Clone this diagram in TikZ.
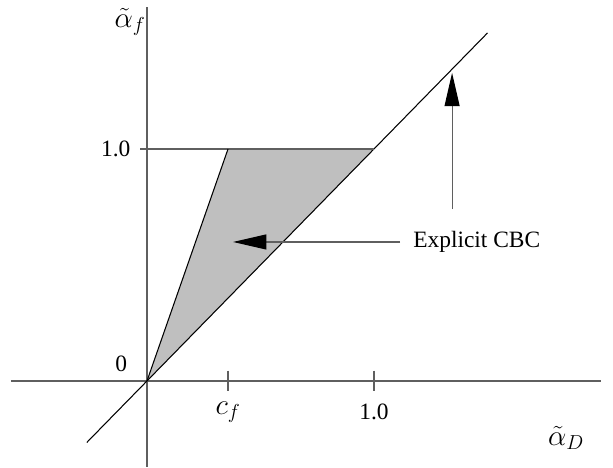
\documentclass[tikz,border=0pt]{standalone}
\usepackage{fontspec}
\setmainfont{Liberation Serif}
\usetikzlibrary{arrows.meta, math}
\definecolor{regiongray}{RGB}{191,191,191}
\definecolor{axisgray}{RGB}{95,95,95}

\begin{document}
\begin{tikzpicture}[x=6.81cm,y=6.96cm,font=\fontsize{20}{24}\selectfont]
\tikzmath{
\cf=0.357;
\tick=0.045;
}
\useasboundingbox (-0.6476,-0.375) rectangle (2.0529,1.642);

\coordinate (O) at (0,0);
\coordinate (C) at (\cf,1);
\coordinate (P) at (1,1);

\fill[color=regiongray] (O) -- (C) -- (P) -- cycle;

% axes
\draw[axisgray,line width=1pt] (-0.6,0) -- (2.0,0);
\draw[axisgray,line width=1pt] (0,-0.37) -- (0,1.61);
\draw[line width=0.9pt] (-0.265,-0.265) -- (1.5,1.5);

\draw[axisgray,line width=1pt] (-0.03,1) -- (P);
\draw[line width=0.9pt] (O) -- (C);
\draw[axisgray,line width=1pt] (\cf,\tick) -- (\cf,-\tick);
\draw[axisgray,line width=1pt] (1,\tick) -- (1,-\tick);

\node[anchor=east] (zero) at (-0.07,0.073) {0};
\node[anchor=east] (yone) at (-0.055,1) {1.0};
\node[font=\fontsize{25}{28}\selectfont] (cflab) at (\cf,-0.134) {$c_f$};
\node (xone) at (1,-0.134) {1.0};
\node[font=\fontsize{25}{28}\selectfont] (yname) at (-0.075,1.547) {$\tilde{\alpha}_f$};
\node[font=\fontsize{25}{28}\selectfont] (xname) at (1.846,-0.246) {$\tilde{\alpha}_D$};

\node[anchor=west,inner sep=0pt] (cbc) at (1.172,0.599) {Explicit CBC};
\coordinate (tipH) at (0.379,0.599);
\coordinate (tailV) at (1.344,0.741);
\coordinate (tipV) at (1.344,1.328);

\draw[-{Triangle[length=10mm,width=4.5mm,color=black]},axisgray,line width=1pt] ([xshift=-0.39cm]cbc.west) -- (tipH);
\draw[-{Triangle[length=10mm,width=4.5mm,color=black]},axisgray,line width=1pt] (tailV) -- (tipV);
\end{tikzpicture}
\end{document}
